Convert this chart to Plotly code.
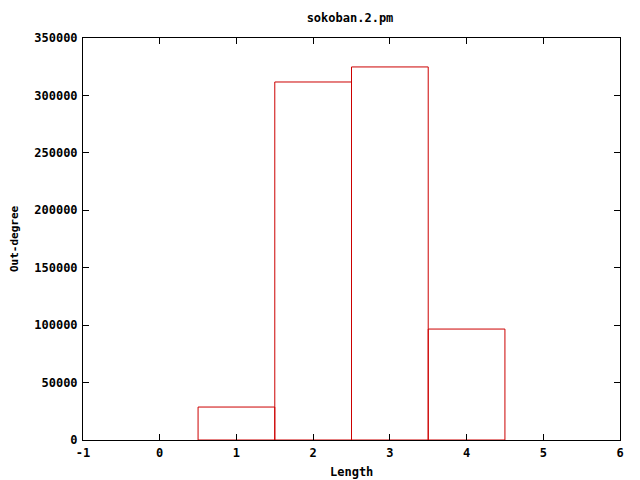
import plotly.graph_objects as go

lengths = [1, 2, 3, 4]
out_degree = [28700, 311700, 324800, 96600]
x_ticks = [-1, 0, 1, 2, 3, 4, 5, 6]
y_ticks = [0, 50000, 100000, 150000, 200000, 250000, 300000, 350000]

W, H = 632, 472
L, R, T, B = 75, 20, 30, 40

fig = go.Figure()
fig.add_trace(go.Bar(
    x=lengths, y=out_degree, width=1,
    marker=dict(color="rgba(255,255,255,0)", line=dict(color="#cc0000", width=1)),
))

tickfont = dict(family="DejaVu Sans Mono", size=12, color="black", weight="bold")
axis_common = dict(
    showgrid=False, zeroline=False, showline=True, linecolor="black", linewidth=1,
    mirror="allticks", ticks="inside", ticklen=6, tickcolor="black", tickwidth=1,
    tickfont=tickfont,
)

fig.update_layout(
    width=W, height=H,
    margin=dict(l=L, r=R, t=T, b=B),
    plot_bgcolor="white", paper_bgcolor="white",
    showlegend=False,
    title=dict(text="<b>sokoban.2.pm</b>", x=(350 - 8) / W, xanchor="center",
               y=1 - (18 - 8) / H, yanchor="middle",
               font=dict(family="DejaVu Sans Mono", size=12, color="black")),
    xaxis=dict(range=[-1, 6], tickvals=x_ticks, ticktext=[str(v) for v in x_ticks],
               ticklabelstandoff=2, **axis_common),
    yaxis=dict(range=[0, 350000], tickvals=y_ticks, ticktext=[str(v) for v in y_ticks],
               ticklabelstandoff=2, **axis_common),
    annotations=[
        dict(text="<b>Length</b>", xref="paper", yref="paper", x=0.5,
             y=-(472 - 440) / (H - T - B), yanchor="middle", xanchor="center",
             showarrow=False, font=dict(family="DejaVu Sans Mono", size=12, color="black")),
        dict(text="<b>Out-degree</b>", xref="paper", yref="paper",
             x=-(83 - 14) / (W - L - R), y=0.5, xanchor="center", yanchor="middle",
             textangle=-90, showarrow=False,
             font=dict(family="DejaVu Sans Mono", size=11, color="black")),
    ],
)

fig.write_html("out.html")
